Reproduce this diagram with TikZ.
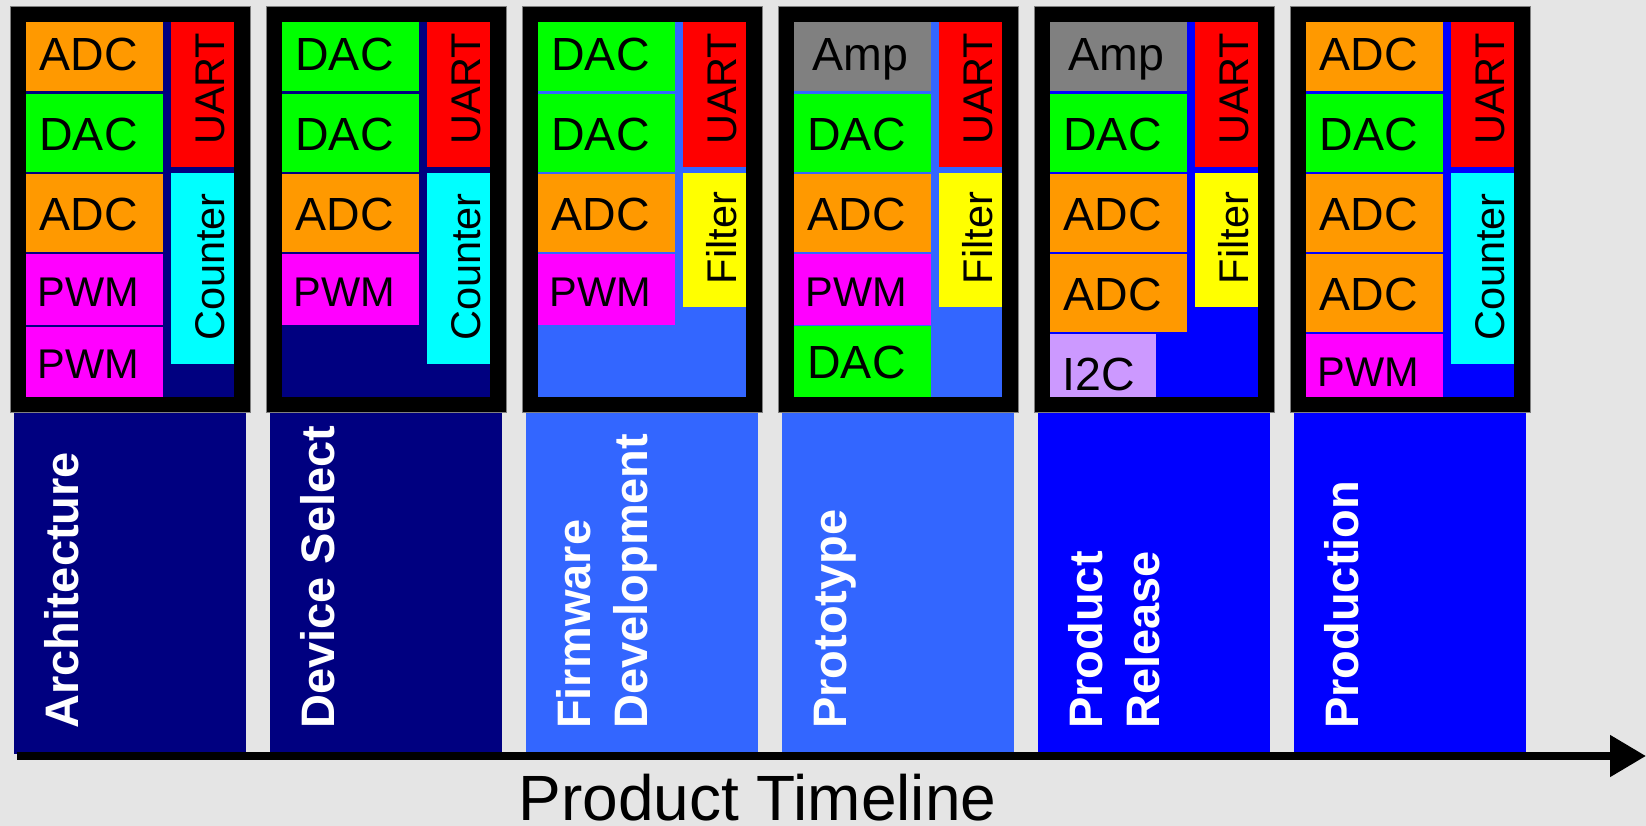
\documentclass[tikz,border=0pt]{standalone}
\usepackage{fontspec}
\setmainfont{Liberation Sans}
\usepackage{tikz}
\usetikzlibrary{arrows.meta}
\usepackage{xcolor}
\definecolor{canvasgray}{RGB}{229,229,229}
\definecolor{navyphase}{RGB}{0,0,128}
\definecolor{midphase}{RGB}{51,102,255}
\definecolor{bluephase}{RGB}{0,0,255}
\definecolor{adccolor}{RGB}{255,153,0}
\definecolor{daccolor}{RGB}{0,255,0}
\definecolor{pwmcolor}{RGB}{255,0,255}
\definecolor{uartcolor}{RGB}{255,0,0}
\definecolor{countcolor}{RGB}{0,255,255}
\definecolor{filtcolor}{RGB}{255,255,0}
\definecolor{ampcolor}{RGB}{128,128,128}
\definecolor{iiccolor}{RGB}{204,153,255}

\begin{document}
\begin{tikzpicture}[x=1pt,y=-1pt,
    blocklbl/.style={anchor=base,inner sep=0pt,font=\fontsize{46.5}{50}\selectfont},
    sidelbl/.style={anchor=base,rotate=90,inner sep=0pt,font=\fontsize{41.5}{45}\selectfont},
    phaselbl/.style={anchor=base west,rotate=90,inner sep=0pt,text=white,
      font=\fontsize{47}{50}\selectfont\bfseries}]
        \def\cw{256}
        \useasboundingbox (0,0) rectangle (1646,826);
        \fill[canvasgray] (0,0) rectangle (1646,826);
        % phase bars under the chips
        \foreach \k/\c in {0/navyphase,1/navyphase,2/midphase,3/midphase,4/bluephase,5/bluephase}
          \fill[\c] ({14+\cw*\k},405) rectangle ({246+\cw*\k},754);
        % chip frames
        \foreach \k/\c in {0/navyphase,1/navyphase,2/midphase,3/midphase,4/bluephase,5/bluephase} {
          \fill[black,draw=gray,thin] ({10+\cw*\k},6) rectangle ({250+\cw*\k},412);
          \fill[\c] ({26+\cw*\k},22) rectangle ({234+\cw*\k},396.5);
        }
        % left column: chip/top/bottom/colour/label/baseline/size
        \foreach \k/\t/\b/\c/\s/\y/\f [count=\n] in {
            0/22/91.5/adccolor/ADC/70.5/46.5, 0/94/172/daccolor/DAC/150.5/46.5,
            0/174/252/adccolor/ADC/230.5/46.5, 0/254/324.5/pwmcolor/PWM/306/41.5,
            0/327/396.5/pwmcolor/PWM/378/41.5,
            1/22/91.5/daccolor/DAC/70.5/46.5, 1/94/172/daccolor/DAC/150.5/46.5,
            1/174/252/adccolor/ADC/230.5/46.5, 1/254/324.5/pwmcolor/PWM/306/41.5,
            2/22/91.5/daccolor/DAC/70.5/46.5, 2/94/172/daccolor/DAC/150.5/46.5,
            2/174/252/adccolor/ADC/230.5/46.5, 2/254/324.5/pwmcolor/PWM/306/41.5,
            3/94/172/daccolor/DAC/150.5/46.5, 3/174/252/adccolor/ADC/230.5/46.5,
            3/254/324.5/pwmcolor/PWM/306/41.5, 3/325.5/396.5/daccolor/DAC/378/46.5,
            4/94/172/daccolor/DAC/150.5/46.5, 4/174/252/adccolor/ADC/230.5/46.5,
            4/254/331.5/adccolor/ADC/310.5/46.5,
            5/22/91.5/adccolor/ADC/70.5/46.5, 5/94/172/daccolor/DAC/150.5/46.5,
            5/174/252/adccolor/ADC/230.5/46.5, 5/254/331.5/adccolor/ADC/310.5/46.5,
            5/334/396.5/pwmcolor/PWM/386/41.5} {
          \fill[\c] ({26+\cw*\k},\t) rectangle ({162.5+\cw*\k},\b);
          \node[blocklbl,font=\fontsize{\f}{\f}\selectfont] (blk\n) at ({88.5+\cw*\k},\y) {\s};
        }
        \foreach \k in {3,4} {
          \fill[ampcolor] ({26+\cw*\k},22) rectangle ({162.5+\cw*\k},91.5);
          \node[blocklbl] (amp\k) at ({92.5+\cw*\k},70.5) {Amp};
        }
        \fill[iiccolor] ({26+\cw*4},334) rectangle ({132+\cw*4},396.5);
        \node[blocklbl] (iic) at ({74.5+\cw*4},390.5) {I2C};
        % right column: chip/top/bottom/colour/label/centre
        \foreach \k/\t/\b/\c/\s/\y [count=\n] in {
            0/22/167.5/uartcolor/UART/88.8, 1/22/167.5/uartcolor/UART/88.8,
            2/22/167.5/uartcolor/UART/88.8, 3/22/167.5/uartcolor/UART/88.8,
            4/22/167.5/uartcolor/UART/88.8, 5/22/167.5/uartcolor/UART/88.8,
            0/173.5/363.5/countcolor/Counter/267, 1/173.5/363.5/countcolor/Counter/267,
            2/173.5/306.5/filtcolor/Filter/238, 3/173.5/306.5/filtcolor/Filter/238,
            4/173.5/306.5/filtcolor/Filter/238, 5/173.5/363.5/countcolor/Counter/267} {
          \fill[\c] ({171+\cw*\k},\t) rectangle ({234+\cw*\k},\b);
          \node[sidelbl] (side\n) at ({224.5+\cw*\k},\y) {\s};
        }
        % phase names
        \foreach \k/\s in {0/Architecture,1/Device Select,2/Firmware,3/Prototype,4/Product,5/Production}
          \node[phaselbl] (phase\k) at ({78+\cw*\k},729) {\s};
        \node[phaselbl] (phasetwo2) at ({135+\cw*2},729) {Development};
        \node[phaselbl] (phasetwo4) at ({135+\cw*4},729) {Release};
        % timeline axis
        \coordinate (axstart) at (17,756);
        \coordinate (axend) at (1646,756);
        \draw[line width=8pt,-{Triangle[length=36pt,width=40pt]}] (axstart) -- (axend);
        \node[anchor=base,inner sep=0pt,font=\fontsize{64}{70}\selectfont] (timeline) at (757.5,820) {Product Timeline};
      \end{tikzpicture}
\end{document}
